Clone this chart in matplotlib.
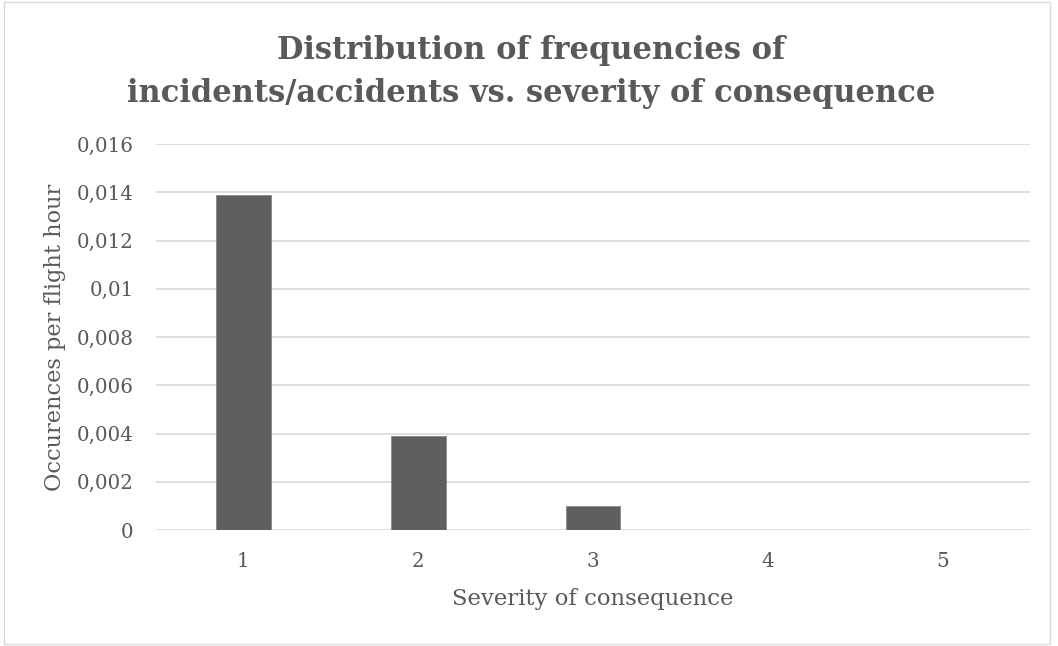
import matplotlib
matplotlib.use('Agg')
import matplotlib.pyplot as plt
from matplotlib.patches import Rectangle
from matplotlib.ticker import FuncFormatter

# ── DATA ──────────────────────────────────────────────────────────────────────
severity    = [1, 2, 3, 4, 5]
occurrences = [0.01387, 0.00391, 0.00098, 0.0, 0.0]
y_ticks     = [0, 0.002, 0.004, 0.006, 0.008, 0.01, 0.012, 0.014, 0.016]
title_lines = ["Distribution of frequencies of",
               "incidents/accidents vs. severity of consequence"]

# ── THEME ─────────────────────────────────────────────────────────────────────
TEXT  = "#595959"
BAR   = "#5f5f5f"
GRID  = "#d9d9d9"
FONT  = ['DejaVu Serif']
W, H  = 1058, 646

plt.rcParams.update({'font.family': FONT, 'text.color': TEXT})

fig = plt.figure(figsize=(W / 100, H / 100), dpi=100, facecolor='white')

# chart border
fig.patches.append(Rectangle((4 / W, 2 / H), 1046 / W, 642 / H,
                             transform=fig.transFigure, fill=False,
                             edgecolor=GRID, lw=1))

ax = fig.add_axes([156 / W, 1 - 530 / H, 874 / W, 386 / H])
ax.bar(severity, occurrences, width=0.314, color=BAR, edgecolor='#8a8a8a',
       lw=0.6, zorder=3)

ax.set_xlim(0.5, 5.5)
ax.set_ylim(0, 0.016)
ax.set_yticks(y_ticks)
ax.yaxis.set_major_formatter(FuncFormatter(lambda v, p: f"{v:g}".replace('.', ',')))
ax.set_xticks(severity)
ax.grid(axis='y', color=GRID, lw=1.2, zorder=0)
for s in ax.spines.values():
    s.set_visible(False)
ax.tick_params(length=0, labelsize=14.3, colors=TEXT)
ax.tick_params(axis='y', pad=16)
ax.tick_params(axis='x', pad=16)

ax.set_xlabel("Severity of consequence", fontsize=16.4, color=TEXT, labelpad=12)
ax.set_ylabel("Occurences per flight hour", fontsize=16.2, color=TEXT, labelpad=8)

# two-line title, each line placed on its own baseline
for line, base in zip(title_lines, [59, 102]):
    fig.text(531 / W, 1 - base / H, line, ha='center', va='baseline',
             fontsize=22, fontweight='bold', color=TEXT)

plt.savefig('out.png', dpi=100, facecolor='white')
